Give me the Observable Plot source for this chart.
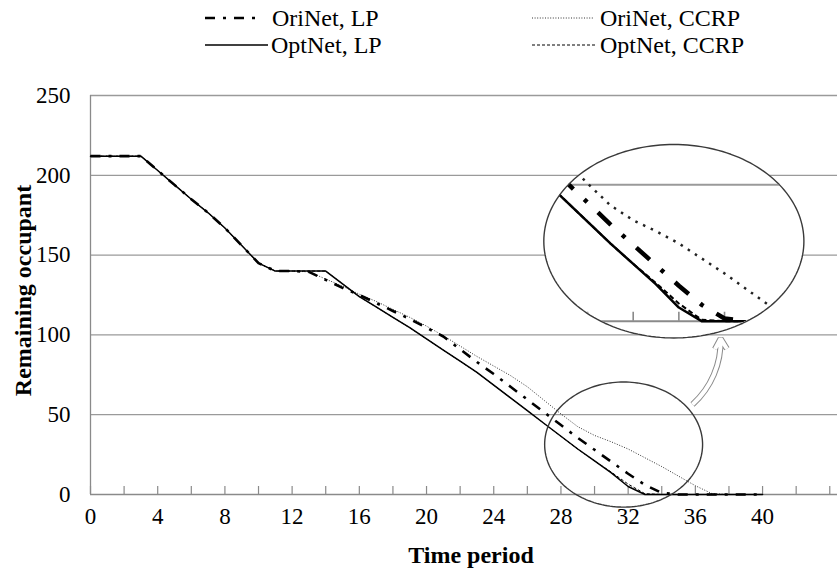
<!DOCTYPE html>
<html><head><meta charset="utf-8">
<script src="https://cdn.jsdelivr.net/npm/d3@7"></script>
<script src="https://cdn.jsdelivr.net/npm/@observablehq/plot@0.6"></script>
<style>
body{margin:0;background:#fff;font-family:"Liberation Serif","Times New Roman",Times,"DejaVu Serif",serif;}
#legend{width:837px;height:70px;}
#chart{width:837px;}
svg text{font-family:"Liberation Serif","Times New Roman",Times,"DejaVu Serif",serif;}
</style></head><body>
<div id="legend"></div>
<div id="chart"></div>
<script>
// ---------- data ----------
const periods = [0,1,2,3,4,5,6,7,8,9,10,11,12,13,14,15,16,17,18,19,20,21,22,23,24,25,26,27,28,29,30,31,32,33,34,35,36,37,38,39,40];
const oriNetLP   = [212,212,212,212,203,194,185,176.5,167,156,145,140,140,139.5,134.5,129.5,125,120,115,110,104.5,99,91,83,75.5,67.5,59.5,51.5,43.5,35.5,28,20.5,13,6,1,0,0,0,0,0,0];
const oriNetCCRP = [212,212,212,212,203,194,185,176.5,167,156,145,140,140,139.5,135,130.5,125.5,121,116,111,105.5,99.5,93,86.5,80.5,74.5,67.5,59,50.5,42.5,37,33,28.5,23,17.5,11.5,5.5,0.5,0,0,0];
const optNetLP   = [212,212,212,212,203,194,185,176.5,167,156,145,140,140,140,140,132,124,117.5,111,104.5,97.5,90.5,83.5,76.5,68.5,60.5,52.5,44.5,36.5,28.5,21,13.5,5,0,0,0,0,0,0,0,0];
const optNetCCRP = [212,212,212,212,203,194,185,176.5,167,156,145,140,140,140,140,132,124,117.5,111,104.5,97.5,90.5,83.5,76.5,68.5,60.5,52.5,44.5,36.5,28.5,21,14,6.5,0.5,0,0,0,0,0,0,0];
const seriesNames = ["OriNet, LP","OriNet, CCRP","OptNet, LP","OptNet, CCRP"];
const xTickLabels = [0,4,8,12,16,20,24,28,32,36,40];
const xMinorTicks = [0,2,4,6,8,10,12,14,16,18,20,22,24,26,28,30,32,34,36,38,40,42,44];
const yTickLabels = [0,50,100,150,200,250];
const xTitle = "Time period";
const yTitle = "Remaining occupant";
// inset (magnified view) tick positions and grid
const insetTicks = [28,30,32,34,36];
const insetGrid = [50];

// ---------- layout / style ----------
const FONT = '"Liberation Serif","Times New Roman",Times,"DejaVu Serif",serif';
const W = 837, H = 509, mL = 90, mR = 0, mT = 25, mB = 85;
const xMax = 44.46;
const pxPerV = (H - mT - mB) / 250;
const pxPerT = (W - mL - mR) / xMax;
const styles = {
  "OriNet, LP":   {stroke:"#000", strokeWidth:2.6, strokeDasharray:"10,8,3,8", strokeLinecap:"butt"},
  "OriNet, CCRP": {stroke:"#333", strokeWidth:1, strokeDasharray:"1,1.6", strokeLinecap:"butt"},
  "OptNet, LP":   {stroke:"#000", strokeWidth:1.5},
  "OptNet, CCRP": {stroke:"#000", strokeWidth:1, strokeDasharray:"3,2", strokeLinecap:"butt"}
};
const insetStyles = {
  "OriNet, LP":   {stroke:"#000", strokeWidth:4.5, strokeDasharray:"18,15,4,15", strokeLinecap:"butt"},
  "OriNet, CCRP": {stroke:"#222", strokeWidth:2.5, strokeDasharray:"2.5,6", strokeLinecap:"butt"},
  "OptNet, LP":   {stroke:"#000", strokeWidth:2.5},
  "OptNet, CCRP": {stroke:"#000", strokeWidth:2, strokeDasharray:"5,3", strokeLinecap:"butt"}
};
// annotation geometry (data units)
const smallEllipse = {t:31.73, v:31.3, rt:4.70, rv:39.2};
const bigEllipse   = {t:34.72, v:158.7, rt:7.74, rv:60.6};
const arrowSpec = [{t1:35.83, v1:56.4, t2:37.5, v2:97.7}];
// inset mapping: source (t,v) -> main (t,v)
const inset = {srcT:30, dstT:32.30, kx:1.359, dstV:108.6, ky:1.709, winT0:26.5, winV1:53};
const insT = t => inset.dstT + (t - inset.srcT) * inset.kx;
const insV = v => inset.dstV + v * inset.ky;

const drawOrder = ["OriNet, CCRP","OptNet, CCRP","OptNet, LP","OriNet, LP"];
const rowsOf = vals => vals.map((v,i) => ({t: periods[i], v}));
const insetRowsOf = vals => vals.map((v,i) => ({t: insT(periods[i]), v: insV(v)}));
const ellipsePts = c => d3.range(0, 361, 2).map(a => ({t: c.t + c.rt*Math.cos(a*Math.PI/180), v: c.v + c.rv*Math.sin(a*Math.PI/180)}));

// ---------- legend ----------
const legendPos = [
  {name:"OriNet, LP",   x1:205, x2:262, tx:272, y:18},
  {name:"OptNet, LP",   x1:205, x2:268, tx:271, y:45},
  {name:"OriNet, CCRP", x1:532, x2:594, tx:600, y:18},
  {name:"OptNet, CCRP", x1:532, x2:596, tx:600, y:45}
];
const legSvg = d3.select("#legend").append("svg").attr("width", W).attr("height", 70);
legendPos.forEach(p => {
  const s = styles[p.name];
  legSvg.append("line").attr("x1", p.x1).attr("x2", p.x2).attr("y1", p.y).attr("y2", p.y)
    .attr("stroke", s.stroke).attr("stroke-width", s.strokeWidth)
    .attr("stroke-dasharray", s.strokeDasharray || null);
  legSvg.append("text").attr("x", p.tx).attr("y", p.y).attr("dy", "0.35em")
    .style("font-family", FONT).attr("font-size", 24).text(p.name);
});

// ---------- chart ----------
const vals = {"OriNet, LP": oriNetLP, "OriNet, CCRP": oriNetCCRP, "OptNet, LP": optNetLP, "OptNet, CCRP": optNetCCRP};
const gridColor = "#9a9a9a";
const axisColor = "#8a8a8a";
const tickLenV = 8 / pxPerV;
const insetTickLenV = 9 / pxPerV;
const IN = "inset-mark";
// title anchors, derived from the layout (pixels -> data units)
const yTitlePos = [{t: -(mL - 23) / pxPerT, v: (H - mB - (290 - 70)) / pxPerV, label: yTitle}];

const chart = Plot.plot({
  width: W, height: H,
  marginLeft: mL, marginRight: mR, marginTop: mT, marginBottom: mB,
  x: {domain: [0, xMax]},
  y: {domain: [0, 250]},
  style: {fontFamily: FONT, fontSize: "23px", color: "#000", background: "#fff", overflow: "visible"},
  marks: [
    Plot.gridY(yTickLabels.filter(d => d > 0), {stroke: gridColor, strokeOpacity: 1, strokeWidth: 1.3}),
    Plot.ruleX([0], {stroke: axisColor, strokeWidth: 1.3}),
    Plot.ruleY([0], {stroke: axisColor, strokeWidth: 1.3}),
    Plot.ruleX(xMinorTicks, {y1: 0, y2: tickLenV, stroke: axisColor, strokeWidth: 1.2}),
    Plot.axisY({ticks: yTickLabels, tickSize: 0, tickPadding: 20, fontSize: 23, label: null}),
    Plot.axisX({ticks: xTickLabels, tickSize: 0, tickPadding: 13, fontSize: 23, label: null}),
    ...drawOrder.map(n => Plot.line(rowsOf(vals[n]), {x: "t", y: "v", ...styles[n]})),
    Plot.line(ellipsePts(smallEllipse), {x: "t", y: "v", stroke: "#3a3a3a", strokeWidth: 1.4}),
    Plot.arrow(arrowSpec, {x1: "t1", y1: "v1", x2: "t2", y2: "v2", bend: -25, stroke: "#8a8a8a", strokeWidth: 6, headLength: 3, strokeLinecap: "butt"}),
    Plot.arrow(arrowSpec, {x1: "t1", y1: "v1", x2: "t2", y2: "v2", bend: -25, stroke: "#fff", strokeWidth: 4, headLength: 4.5, strokeLinecap: "butt"}),
    Plot.line(ellipsePts(bigEllipse), {x: "t", y: "v", fill: "#fff", stroke: "none"}),
    Plot.ruleY(insetGrid.map(insV), {x1: bigEllipse.t - bigEllipse.rt, x2: bigEllipse.t + bigEllipse.rt, stroke: gridColor, strokeWidth: 2, className: IN}),
    Plot.ruleY([insV(0)], {x1: bigEllipse.t - bigEllipse.rt, x2: bigEllipse.t + bigEllipse.rt, stroke: axisColor, strokeWidth: 2, className: IN}),
    Plot.ruleX(insetTicks.map(insT), {y1: insV(0), y2: insV(0) + insetTickLenV, stroke: axisColor, strokeWidth: 1.6, className: IN}),
    ...drawOrder.map(n => Plot.line(insetRowsOf(vals[n]), {x: "t", y: "v", ...insetStyles[n], className: IN})),
    Plot.line(ellipsePts(bigEllipse), {x: "t", y: "v", stroke: "#3a3a3a", strokeWidth: 1.4}),
    Plot.text([xTitle], {text: d => d, frameAnchor: "bottom", dy: 68, dx: 7, fontWeight: "bold", fontSize: 24}),
    Plot.text(yTitlePos, {x: "t", y: "v", text: "label", rotate: -90, textAnchor: "middle", lineAnchor: "middle", fontWeight: "bold", fontSize: 24})
  ]
});
document.getElementById("chart").appendChild(chart);

// clip the magnified view to the ellipse and to its source window
const xs = chart.scale("x"), ys = chart.scale("y");
const svg = d3.select(chart);
const defs = svg.insert("defs", ":first-child");
const ecx = xs.apply(bigEllipse.t), ecy = ys.apply(bigEllipse.v);
const erx = xs.apply(bigEllipse.t + bigEllipse.rt) - ecx, ery = ecy - ys.apply(bigEllipse.v + bigEllipse.rv);
defs.append("clipPath").attr("id", "insetEllipse").attr("clipPathUnits", "userSpaceOnUse").append("ellipse")
  .attr("cx", ecx).attr("cy", ecy).attr("rx", erx - 0.5).attr("ry", ery - 0.5);
const rX0 = xs.apply(insT(inset.winT0)), rY0 = ys.apply(insV(inset.winV1));
defs.append("clipPath").attr("id", "insetRect").attr("clipPathUnits", "userSpaceOnUse").append("rect")
  .attr("x", rX0).attr("y", rY0).attr("width", W).attr("height", H);
const NS = "http://www.w3.org/2000/svg";
chart.querySelectorAll("g." + IN + ", path." + IN).forEach(function(node) {
  const outer = document.createElementNS(NS, "g");
  outer.setAttribute("clip-path", "url(#insetEllipse)");
  const inner = document.createElementNS(NS, "g");
  inner.setAttribute("clip-path", "url(#insetRect)");
  node.parentNode.insertBefore(outer, node);
  outer.appendChild(inner);
  inner.appendChild(node);
});
</script>
</body></html>
